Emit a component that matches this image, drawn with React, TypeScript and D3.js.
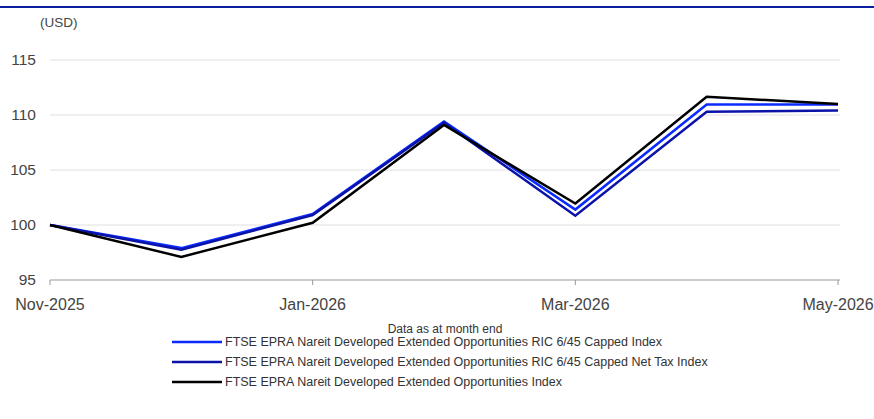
import React from 'react';
import * as d3 from 'd3';

const months = ['Nov-2025', 'Dec-2025', 'Jan-2026', 'Feb-2026', 'Mar-2026', 'Apr-2026', 'May-2026'];
const tickMonths = ['Nov-2025', 'Jan-2026', 'Mar-2026', 'May-2026'];
const yTicks = [95, 100, 105, 110, 115];

const cappedIndex = [100, 97.9, 101.0, 109.4, 101.4, 110.95, 110.95];
const netTaxIndex = [100, 97.75, 100.9, 109.3, 100.85, 110.3, 110.4];
const baseIndex = [100, 97.1, 100.2, 109.1, 101.95, 111.65, 111.0];

const seriesNames = [
    'FTSE EPRA Nareit Developed Extended Opportunities RIC 6/45 Capped Index',
    'FTSE EPRA Nareit Developed Extended Opportunities RIC 6/45 Capped Net Tax Index',
    'FTSE EPRA Nareit Developed Extended Opportunities Index',
];
const seriesColors = ['#0a2bff', '#0a12a8', '#000000'];

const App: React.FC = () => {
    const width = 874;
    const height = 419;
    const left = 50;
    const right = 838;

    const x = d3.scalePoint<string>().domain(months).range([left, right]);
    const y = d3.scaleLinear().domain([95, 115]).range([280, 60]);

    const line = d3.line<number>()
        .x((_, i) => x(months[i]) as number)
        .y(d => y(d));

    const allSeries = [cappedIndex, netTaxIndex, baseIndex];
    const font = '"Liberation Sans", Arial, sans-serif';

    return (
        <svg width={width} height={height} style={{ position: 'absolute', left: 0, top: 0 }} fontFamily={font}>
            <line x1={0} x2={width} y1={7} y2={7} stroke="#0a1ea0" strokeWidth={1.8} />
            <text x={40} y={27} fontSize={13.5} fill="#444">(USD)</text>

            {yTicks.map(t => (
                <g key={t}>
                    {t !== 95 && (
                        <line x1={left} x2={right + 2} y1={y(t)} y2={y(t)} stroke="#e0e0e0" strokeWidth={1} />
                    )}
                    <text x={36} y={y(t)} dy="0.35em" textAnchor="end" fontSize={15.5} fill="#444">{t}</text>
                </g>
            ))}

            <line x1={left} x2={right + 2} y1={y(95)} y2={y(95)} stroke="#999" strokeWidth={1} />
            {tickMonths.map(m => (
                <g key={m}>
                    <line x1={x(m)} x2={x(m)} y1={y(95)} y2={y(95) + 5} stroke="#999" />
                    <text x={x(m)} y={310} textAnchor="middle" fontSize={16} fill="#444">{m}</text>
                </g>
            ))}

            {allSeries.map((s, i) => (
                <path key={i} d={line(s) || undefined} fill="none" stroke={seriesColors[i]} strokeWidth={2.5} strokeLinejoin="miter" />
            ))}

            <text x={445} y={333} textAnchor="middle" fontSize={12} fill="#333">Data as at month end</text>

            {seriesNames.map((n, i) => (
                <g key={n} transform={`translate(0, ${342 + i * 20})`}>
                    <line x1={172} x2={222} y1={0} y2={0} stroke={seriesColors[i]} strokeWidth={2.5} />
                    <text x={225} y={0} dy="0.35em" fontSize={12.5} fill="#333">{n}</text>
                </g>
            ))}
        </svg>
    );
};

export default App;
